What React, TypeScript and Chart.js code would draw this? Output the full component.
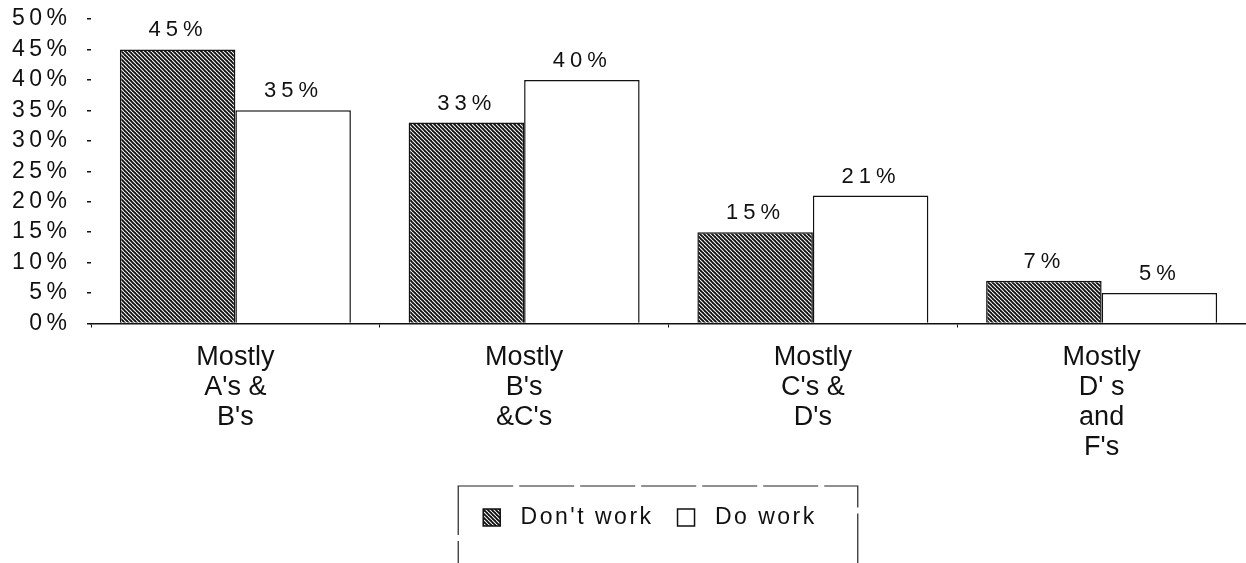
import React, { useEffect, useRef } from "react";
import { Chart, registerables } from "chart.js";

Chart.register(...registerables);

const categories: string[][] = [
  ["Mostly", "A's &", "B's"],
  ["Mostly", "B's", "&C's"],
  ["Mostly", "C's &", "D's"],
  ["Mostly", "D' s", "and", "F's"],
];
const dontWork: number[] = [45, 33, 15, 7];
const doWork: number[] = [35, 40, 21, 5];
const seriesNames: string[] = ["Don't work", "Do work"];
const yTickStep = 5;
const yMax = 50;

const FONT = "'Liberation Sans', Arial, Helvetica, sans-serif";
const Y_SPACING = 4.5;
const VAL_SPACING = 5;
const LEGEND_SPACING = 2.5;
const X_SPACING = 0;
const LEGEND_SHIFT = 27;

function makeHatch(): CanvasPattern | string {
  const s = 4;
  const c = document.createElement("canvas");
  c.width = s;
  c.height = s;
  const g = c.getContext("2d");
  if (!g) return "#222";
  g.fillStyle = "#111";
  g.fillRect(0, 0, s, s);
  g.strokeStyle = "#f4f4f4";
  g.lineWidth = 1.1;
  for (const off of [-s, 0, s]) {
    g.beginPath();
    g.moveTo(off, 0);
    g.lineTo(off + s, s);
    g.stroke();
  }
  const p = g.createPattern(c, "repeat");
  return p || "#222";
}

function wrapSpacing(obj: any, method: string, spacing: number) {
  if (!obj || obj["__sp_" + method]) return;
  const orig = obj[method];
  if (typeof orig !== "function") return;
  obj[method] = function (...args: any[]) {
    const ctx = this.ctx;
    const prev = ctx.letterSpacing;
    ctx.letterSpacing = `${spacing}px`;
    const r = orig.apply(this, args);
    ctx.letterSpacing = prev;
    return r;
  };
  obj["__sp_" + method] = true;
}

const spacingPlugin = {
  id: "spacing",
  beforeUpdate(chart: any) {
    (chart.ctx as any).letterSpacing = `${LEGEND_SPACING}px`;
  },
  afterLayout(chart: any) {
    const lg = chart.legend;
    if (lg) {
      lg.left += LEGEND_SHIFT;
      lg.right += LEGEND_SHIFT;
    }
  },
  beforeDraw(chart: any) {
    (chart.ctx as any).letterSpacing = `${LEGEND_SPACING}px`;
    wrapSpacing(chart.scales.x, "drawLabels", X_SPACING);
    wrapSpacing(chart.scales.y, "drawLabels", Y_SPACING);
    wrapSpacing(chart.legend, "draw", LEGEND_SPACING);
  },
};

const valueLabels = {
  id: "valueLabels",
  afterDatasetsDraw(chart: any) {
    const ctx = chart.ctx;
    ctx.save();
    (ctx as any).letterSpacing = `${VAL_SPACING}px`;
    ctx.font = `22px ${FONT}`;
    ctx.fillStyle = "#111";
    ctx.textAlign = "center";
    ctx.textBaseline = "alphabetic";
    chart.data.datasets.forEach((ds: any, i: number) => {
      const meta = chart.getDatasetMeta(i);
      meta.data.forEach((bar: any, j: number) => {
        ctx.fillText(`${ds.data[j]}%`, bar.x - 2 + VAL_SPACING / 2, bar.y - 13);
      });
    });
    ctx.restore();
  },
};

const legendBox = {
  id: "legendBox",
  afterDraw(chart: any) {
    const lg = chart.legend;
    if (!lg || !lg.legendHitBoxes || !lg.legendHitBoxes.length) return;
    const hb = lg.legendHitBoxes;
    const first = hb[0];
    const last = hb[hb.length - 1];
    const left = first.left - 25;
    const right = last.left + last.width + 41;
    const top = first.top - 20;
    const bottom = first.top + first.height + 70;
    const ctx = chart.ctx;
    ctx.save();
    ctx.strokeStyle = "#222";
    ctx.lineWidth = 1.2;
    ctx.setLineDash([55, 6]);
    ctx.strokeRect(left, top, right - left, bottom - top);
    ctx.restore();
  },
};

export default function App() {
  const ref = useRef<HTMLCanvasElement | null>(null);

  useEffect(() => {
    document.body.style.margin = "0";
    if (!ref.current) return;
    const hatch = makeHatch();
    const chart = new Chart(ref.current, {
      type: "bar",
      data: {
        labels: categories,
        datasets: [
          {
            label: seriesNames[0],
            data: dontWork,
            backgroundColor: hatch as any,
            borderColor: "#111",
            borderWidth: 1.5,
            categoryPercentage: 0.8,
            barPercentage: 1.0,
          },
          {
            label: seriesNames[1],
            data: doWork,
            backgroundColor: "#ffffff",
            borderColor: "#111",
            borderWidth: 1.5,
            categoryPercentage: 0.8,
            barPercentage: 1.0,
          },
        ],
      },
      options: {
        animation: false,
        responsive: true,
        maintainAspectRatio: false,
        layout: { padding: { top: 19, right: 0, left: 0, bottom: 41 } },
        plugins: {
          tooltip: { enabled: false },
          legend: {
            position: "bottom",
            labels: {
              boxWidth: 17,
              boxHeight: 17,
              padding: 24,
              color: "#111",
              font: { family: FONT, size: 23 },
              generateLabels(chart: any) {
                const items = Chart.defaults.plugins.legend.labels.generateLabels(chart);
                items.forEach((it: any) => {
                  it.text = " " + it.text;
                });
                return items;
              },
            },
          },
        },
        scales: {
          x: {
            border: { display: true, color: "#111", width: 1.5 },
            grid: {
              display: true,
              drawOnChartArea: false,
              drawTicks: true,
              tickLength: 4,
              color: "#111",
              lineWidth: 1,
            },
            ticks: {
              color: "#111",
              padding: 15,
              maxRotation: 0,
              autoSkip: false,
              font: { family: FONT, size: 27, lineHeight: 30 / 27 },
            },
            afterFit(scale: any) {
              scale.height = 158.5;
            },
          },
          y: {
            min: 0,
            max: yMax,
            border: { display: false },
            grid: {
              display: true,
              drawOnChartArea: false,
              drawTicks: true,
              tickLength: 4,
              color: "#111",
              lineWidth: 1.5,
            },
            ticks: {
              stepSize: yTickStep,
              autoSkip: false,
              color: "#111",
              padding: 15.5,
              font: { family: FONT, size: 23, lineHeight: 1 },
              callback: (v: any) => `${v}%`,
            },
            afterFit(scale: any) {
              scale.width = 91;
              scale.paddingTop = 8;
              scale.paddingBottom = 8;
            },
          },
        },
      },
      plugins: [spacingPlugin, valueLabels, legendBox],
    });
    return () => chart.destroy();
  }, []);

  return (
    <div style={{ position: "relative", width: "1246px", height: "580px" }}>
      <canvas ref={ref} />
    </div>
  );
}
